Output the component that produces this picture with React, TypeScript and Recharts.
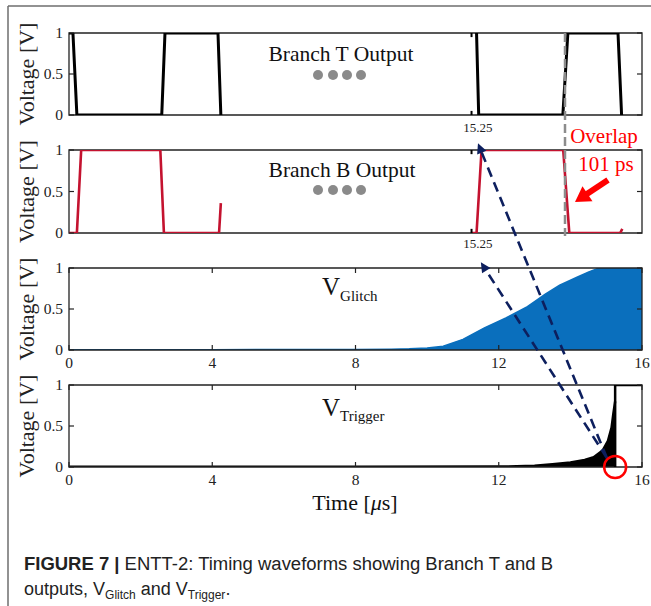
import React from "react";
import { ComposedChart, Line, Area, XAxis, YAxis, ReferenceArea } from "recharts";

// ---------- data ----------
// Branch T output (zoomed window, display units on a 0..16 scale)
const branchTLeftTime = [0, 0.11, 0.22, 2.59, 2.68, 4.16, 4.24];
const branchTLeftV = [1, 1, 0, 0, 1, 1, 0];
const branchTRightTime = [11.38, 11.44, 13.79, 13.93, 15.33, 15.43];
const branchTRightV = [1, 0, 0, 1, 1, 0];
// axis-break marks at the start of the right window
const breakTime = [11.24, 11.24];
const breakTopV = [0.95, 1];
const breakBottomV = [0, 0.05];
// Branch B output
const branchBLeftTime = [0, 0.22, 0.34, 2.55, 2.65, 4.19, 4.24];
const branchBLeftV = [0, 0, 1, 1, 0, 0, 0.36];
const branchBRightTime = [11.24, 11.38, 11.52, 13.8, 13.97, 15.39, 15.45];
const branchBRightV = [0, 0, 1, 1, 0, 0, 0.05];
// V_Glitch envelope (μs, V)
const glitchTime = [0, 2, 4, 6, 8, 9, 9.5, 10, 10.45, 11, 11.6, 12.2, 12.8, 13.3, 13.7, 14.2, 14.5, 14.8, 15.3, 16];
const glitchV = [0.004, 0.004, 0.004, 0.005, 0.006, 0.01, 0.015, 0.025, 0.045, 0.13, 0.27, 0.39, 0.53, 0.68, 0.79, 0.89, 0.95, 1, 1, 1];
// V_Trigger envelope (μs, V)
const triggerTime = [0, 4, 8, 12, 12.5, 13, 13.5, 14, 14.4, 14.65, 14.9, 15.05, 15.15, 15.2, 15.25];
const triggerV = [0.004, 0.004, 0.004, 0.005, 0.009, 0.015, 0.035, 0.055, 0.085, 0.12, 0.2, 0.32, 0.48, 0.65, 0.8];
const triggerHighTime = [15.25, 15.25, 16];
const triggerHighV = [0, 1, 1];

const xTicks = [0, 4, 8, 12, 16];
const yTicks = [0, 0.5, 1];
const markerTime = 15.25;
const overlapLabel = "101 ps";

const zip = (t: number[], v: number[]) => t.map((x, i) => ({ t: x, v: v[i] }));

// ---------- layout ----------
const W = 651;
const X0 = 69;
const X1 = 642;
const PANELS = [
  { top: 33, bottom: 115 },
  { top: 150, bottom: 233 },
  { top: 268, bottom: 350 },
  { top: 385, bottom: 467 },
];
const PAD_T = 12;
const PAD_B = 30;
const YAW = 40;
const XAH = 22;
const SERIF = "'Liberation Serif', 'Times New Roman', serif";
const RED = "#C4122F";
const BLUE = "#0a6fbd";
const NAVY = "#0d1f5e";

const px = (t: number) => X0 + (t / 16) * (X1 - X0);
const py = (p: number, v: number) => PANELS[p].bottom - v * (PANELS[p].bottom - PANELS[p].top);

const makeYTick = (p: number) => (props: any) => {
  const y = props.y;
  const val = props.payload.value;
  return (
    <g>
      <text x={X0 - 6} y={y + 5} textAnchor="end" fontFamily={SERIF} fontSize={15.5} fill="#222">
        {val === 0.5 ? "0.5" : String(val)}
      </text>
      <line x1={X0} x2={X0 + 5} y1={y} y2={y} stroke="#222" strokeWidth={1.2} />
      <line x1={X1 - 5} x2={X1} y1={y} y2={y} stroke="#222" strokeWidth={1.2} />
    </g>
  );
};

const makeXTick = (p: number) => (props: any) => {
  const x = props.x;
  const top = PAD_T;
  const bottom = PAD_T + PANELS[p].bottom - PANELS[p].top;
  return (
    <g>
      <text x={x} y={bottom + 18} textAnchor="middle" fontFamily={SERIF} fontSize={15.5} fill="#222">
        {String(props.payload.value)}
      </text>
      <line x1={x} x2={x} y1={bottom} y2={bottom - 5} stroke="#222" strokeWidth={1.2} />
      <line x1={x} x2={x} y1={top} y2={top + 5} stroke="#222" strokeWidth={1.2} />
    </g>
  );
};

function Panel({ p, showX, children }: { p: number; showX: boolean; children: React.ReactNode }) {
  const { top, bottom } = PANELS[p];
  const h = bottom - top + PAD_T + PAD_B;
  return (
    <div style={{ position: "absolute", left: 0, top: top - PAD_T }}>
      <ComposedChart width={W} height={h} margin={{ top: PAD_T, bottom: PAD_B - XAH, left: X0 - YAW, right: W - X1 }}>
        <XAxis
          type="number"
          dataKey="t"
          domain={[0, 16]}
          ticks={xTicks}
          allowDataOverflow
          height={XAH}
          axisLine={false}
          tickLine={false}
          tick={showX ? makeXTick(p) : false}
          interval={0}
        />
        <YAxis
          type="number"
          domain={[0, 1]}
          ticks={yTicks}
          width={YAW}
          axisLine={false}
          tickLine={false}
          tick={makeYTick(p)}
          interval={0}
          allowDataOverflow
        />
        {children}
        <ReferenceArea x1={0} x2={16} y1={0} y2={1} fill="none" fillOpacity={0} stroke="#222" strokeWidth={1.3} ifOverflow="visible" />
      </ComposedChart>
    </div>
  );
}

function Arrowhead({ from, to, color, len = 10, half = 5 }: any) {
  const dx = to[0] - from[0];
  const dy = to[1] - from[1];
  const L = Math.hypot(dx, dy);
  const ux = dx / L, uy = dy / L;
  const bx = to[0] - ux * len, by = to[1] - uy * len;
  const pts = [to, [bx - uy * half, by + ux * half], [bx + uy * half, by - ux * half]];
  return <polygon points={pts.map((q) => q.join(",")).join(" ")} fill={color} />;
}

export default function App() {
  const dots = [318, 333, 347, 361];
  const base: [number, number] = [px(15.02), py(3, 0.11)];
  const tip1: [number, number] = [px(11.42), py(1, 1.08)];
  const tip2: [number, number] = [px(11.5), py(2, 1.07)];
  const grayX = px(13.85);
  const redTail: [number, number] = [608, 180];
  const redTip: [number, number] = [575, 202];
  const shorten = (a: [number, number], b: [number, number], d: number): [number, number] => {
    const L = Math.hypot(b[0] - a[0], b[1] - a[1]);
    return [b[0] - ((b[0] - a[0]) / L) * d, b[1] - ((b[1] - a[1]) / L) * d];
  };
  const lineProps = { type: "linear" as const, dot: false, isAnimationActive: false, dataKey: "v" };
  return (
    <div style={{ position: "absolute", left: 0, top: 0, width: W, height: 606, background: "#fff", overflow: "hidden" }}>
      <Panel p={0} showX={false}>
        <Line data={zip(branchTLeftTime, branchTLeftV)} {...lineProps} stroke="#000" strokeWidth={3} />
        <Line data={zip(branchTRightTime, branchTRightV)} {...lineProps} stroke="#000" strokeWidth={3} />
        <Line data={zip(breakTime, breakTopV)} {...lineProps} stroke="#000" strokeWidth={2} />
        <Line data={zip(breakTime, breakBottomV)} {...lineProps} stroke="#000" strokeWidth={2} />
      </Panel>
      <Panel p={1} showX={false}>
        <Line data={zip(branchBLeftTime, branchBLeftV)} {...lineProps} stroke={RED} strokeWidth={2.6} />
        <Line data={zip(branchBRightTime, branchBRightV)} {...lineProps} stroke={RED} strokeWidth={2.6} />
        <Line data={zip(breakTime, breakTopV)} {...lineProps} stroke="#000" strokeWidth={2} />
        <Line data={zip(breakTime, breakBottomV)} {...lineProps} stroke="#000" strokeWidth={2} />
      </Panel>
      <Panel p={2} showX={true}>
        <Area data={zip(glitchTime, glitchV)} dataKey="v" type="linear" stroke={BLUE} strokeWidth={1.5} fill={BLUE} fillOpacity={1} isAnimationActive={false} dot={false} />
      </Panel>
      <Panel p={3} showX={true}>
        <Area data={zip(triggerTime, triggerV)} dataKey="v" type="linear" stroke="#000" strokeWidth={2.5} fill="#000" fillOpacity={1} isAnimationActive={false} dot={false} />
        <Line data={zip(triggerHighTime, triggerHighV)} {...lineProps} stroke="#000" strokeWidth={2.5} />
      </Panel>

      <svg width={W} height={606} style={{ position: "absolute", left: 0, top: 0, pointerEvents: "none" }}>
        {/* figure frame */}
        <line x1={8} y1={6} x2={W} y2={6} stroke="#6e6e6e" strokeWidth={1.5} />
        <line x1={8} y1={6} x2={8} y2={606} stroke="#6e6e6e" strokeWidth={1.5} />

        {/* y labels */}
        {PANELS.map((p, i) => (
          <text key={i} transform={`translate(34, ${(p.top + p.bottom) / 2}) rotate(-90)`} textAnchor="middle" fontFamily={SERIF} fontSize={22} fill="#222">
            Voltage [V]
          </text>
        ))}

        {/* panel titles */}
        <text x={341} y={61} textAnchor="middle" fontFamily={SERIF} fontSize={21.5} fill="#111">Branch T Output</text>
        <text x={342} y={177} textAnchor="middle" fontFamily={SERIF} fontSize={21.5} fill="#111">Branch B Output</text>
        {dots.map((x) => <circle key={"a" + x} cx={x} cy={75} r={5} fill="#8a8a8a" />)}
        {dots.map((x) => <circle key={"b" + x} cx={x} cy={190} r={5} fill="#8a8a8a" />)}

        <text x={322} y={295} fontFamily={SERIF} fontSize={25} fill="#111">
          V<tspan fontSize={15} dy={6}>Glitch</tspan>
        </text>
        <text x={322} y={416} fontFamily={SERIF} fontSize={25} fill="#111">
          V<tspan fontSize={15} dy={5}>Trigger</tspan>
        </text>

        <text x={355} y={510} textAnchor="middle" fontFamily={SERIF} fontSize={22} fill="#111">
          Time [<tspan fontStyle="italic">μ</tspan>s]
        </text>

        {/* gray dashed overlap marker */}
        <line x1={grayX} x2={grayX} y1={PANELS[0].top} y2={PANELS[1].bottom + 3} stroke="#8c8c8c" strokeWidth={2.5} strokeDasharray="9 4" />

        {/* 15.25 labels */}
        <text x={px(11.42)} y={132} textAnchor="middle" fontFamily={SERIF} fontSize={13} fill="#222">{markerTime.toFixed(2)}</text>
        <text x={px(11.42)} y={248} textAnchor="middle" fontFamily={SERIF} fontSize={13} fill="#222">{markerTime.toFixed(2)}</text>

        {/* overlap annotation */}
        <text x={604} y={143} textAnchor="middle" fontFamily={SERIF} fontSize={21} fill="#ff0000">Overlap</text>
        <text x={606} y={171} textAnchor="middle" fontFamily={SERIF} fontSize={21} fill="#ff0000">{overlapLabel}</text>
        <line x1={redTail[0]} y1={redTail[1]} x2={shorten(redTail, redTip, 12)[0]} y2={shorten(redTail, redTip, 12)[1]} stroke="#ff0000" strokeWidth={6} />
        <Arrowhead from={redTail} to={redTip} color="#ff0000" len={15} half={9} />

        {/* navy dashed arrows */}
        <line x1={base[0]} y1={base[1]} x2={shorten(base, tip1, 8)[0]} y2={shorten(base, tip1, 8)[1]} stroke={NAVY} strokeWidth={2.6} strokeDasharray="10 6" />
        <Arrowhead from={base} to={tip1} color={NAVY} len={10} half={5} />
        <line x1={base[0]} y1={base[1]} x2={shorten(base, tip2, 8)[0]} y2={shorten(base, tip2, 8)[1]} stroke={NAVY} strokeWidth={2.6} strokeDasharray="10 6" />
        <Arrowhead from={base} to={tip2} color={NAVY} len={10} half={5} />

        {/* red circle */}
        <circle cx={px(markerTime)} cy={py(3, 0)} r={11} fill="none" stroke="#ff0000" strokeWidth={2.5} />

        {/* caption */}
        <text x={24} y={570} fontFamily="'Liberation Sans', Arial, sans-serif" fontSize={18} fill="#222" textLength={529} lengthAdjust="spacingAndGlyphs">
          <tspan fontWeight="bold">FIGURE 7 | </tspan>ENTT-2: Timing waveforms showing Branch T and B
        </text>
        <text x={24} y={595} fontFamily="'Liberation Sans', Arial, sans-serif" fontSize={18} fill="#222">
          outputs, V<tspan fontSize={12} dy={4}>Glitch</tspan><tspan dy={-4}> and V</tspan><tspan fontSize={12} dy={4}>Trigger</tspan><tspan dy={-4}>.</tspan>
        </text>
      </svg>
    </div>
  );
}
